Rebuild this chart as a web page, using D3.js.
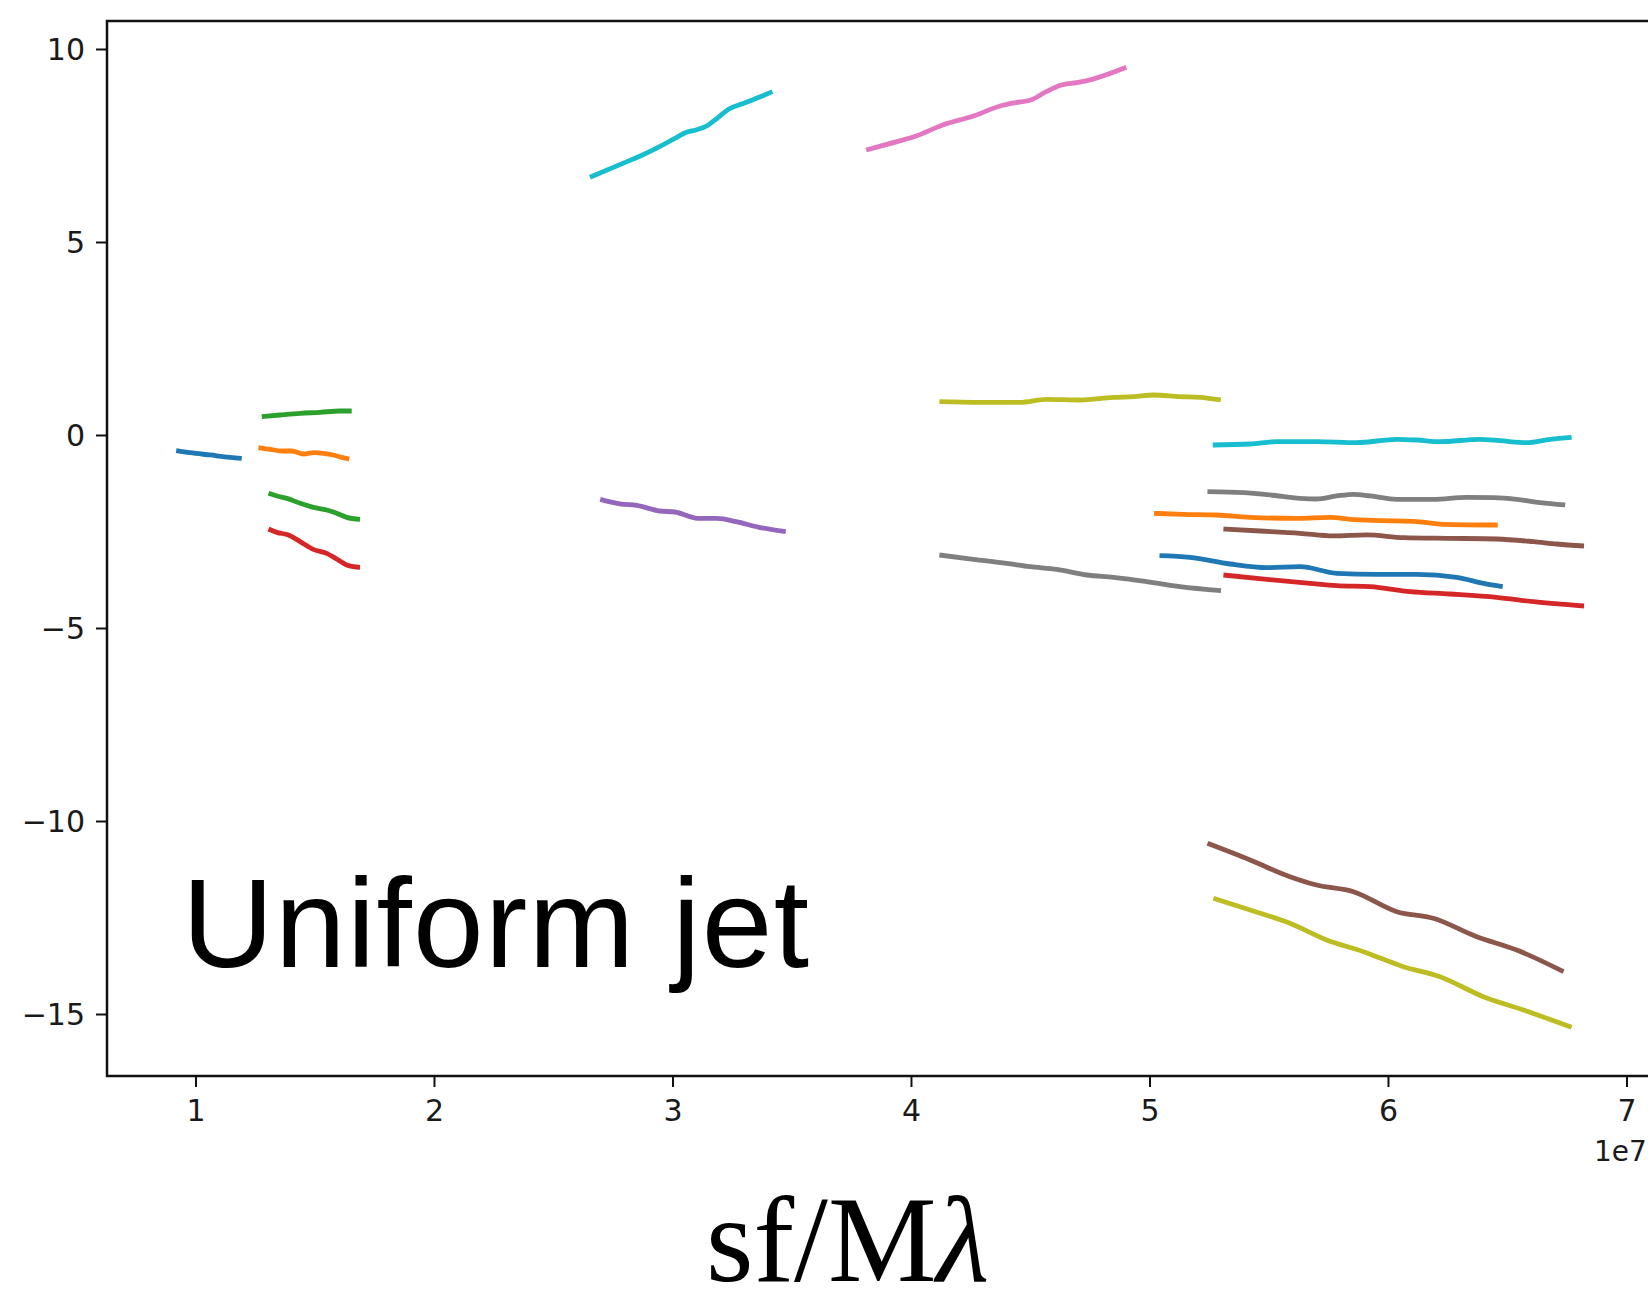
<!DOCTYPE html>
<html>
<head>
<meta charset="utf-8">
<script src="https://cdn.jsdelivr.net/npm/d3@7"></script>
<style>
  html, body { margin: 0; padding: 0; background: #fff; }
  svg { display: block; }
</style>
</head>
<body>
<svg id="chart" width="1648" height="1308"></svg>
<script>
// ---- data (x in units of 1e7) ----
const xTicks = [1, 2, 3, 4, 5, 6, 7];
const yTicks = [-15, -10, -5, 0, 5, 10];
const xOffsetLabel = "1e7";
const annotation = "Uniform jet";
const xLabelMain = "sf/M";
const xLabelSym = "λ";

const segBlueA = [[0.919,-0.406],[0.977,-0.458],[1.061,-0.518],[1.145,-0.578],[1.194,-0.604]];
const segGreenA = [[1.278,0.475],[1.355,0.518],[1.439,0.561],[1.522,0.587],[1.606,0.622],[1.655,0.622]];
const segOrangeA = [[1.264,-0.328],[1.313,-0.371],[1.362,-0.414],[1.404,-0.414],[1.453,-0.492],[1.494,-0.458],[1.536,-0.475],[1.578,-0.518],[1.613,-0.578],[1.645,-0.622]];
const segGreenB = [[1.306,-1.511],[1.341,-1.580],[1.383,-1.641],[1.439,-1.770],[1.494,-1.874],[1.550,-1.943],[1.592,-2.029],[1.634,-2.133],[1.690,-2.185]];
const segRedA = [[1.306,-2.435],[1.341,-2.522],[1.390,-2.591],[1.439,-2.763],[1.494,-2.962],[1.550,-3.066],[1.592,-3.212],[1.634,-3.368],[1.662,-3.411],[1.690,-3.428]];
const segPurple = [[2.697,-1.667],[2.785,-1.788],[2.850,-1.822],[2.946,-1.969],[3.010,-1.995],[3.106,-2.159],[3.187,-2.159],[3.267,-2.245],[3.363,-2.392],[3.475,-2.505]];
const segCyanA = [[2.654,6.675],[2.809,7.081],[2.874,7.254],[2.946,7.470],[3.010,7.686],[3.058,7.841],[3.098,7.901],[3.138,7.988],[3.187,8.204],[3.235,8.437],[3.299,8.592],[3.363,8.748],[3.419,8.895]];
const segPink = [[3.812,7.383],[3.941,7.599],[4.021,7.746],[4.133,8.031],[4.262,8.264],[4.374,8.523],[4.438,8.610],[4.502,8.679],[4.567,8.895],[4.631,9.067],[4.695,9.128],[4.759,9.214],[4.903,9.525]];
const segOliveA = [[4.119,0.864],[4.290,0.846],[4.457,0.846],[4.569,0.924],[4.709,0.907],[4.849,0.976],[4.933,0.993],[5.016,1.036],[5.128,0.993],[5.212,0.976],[5.299,0.907]];
const segGrayA = [[4.119,-3.109],[4.262,-3.221],[4.401,-3.325],[4.499,-3.411],[4.611,-3.480],[4.737,-3.627],[4.849,-3.687],[4.989,-3.799],[5.128,-3.929],[5.300,-4.033]];
const segCyanB = [[5.265,-0.259],[5.422,-0.233],[5.534,-0.173],[5.701,-0.173],[5.869,-0.199],[6.037,-0.112],[6.121,-0.130],[6.218,-0.173],[6.386,-0.112],[6.470,-0.147],[6.582,-0.199],[6.680,-0.112],[6.770,-0.060]];
const segGrayB = [[5.243,-1.468],[5.394,-1.494],[5.506,-1.554],[5.631,-1.641],[5.701,-1.658],[5.785,-1.580],[5.855,-1.537],[5.925,-1.580],[6.037,-1.667],[6.190,-1.667],[6.330,-1.615],[6.442,-1.623],[6.540,-1.667],[6.638,-1.753],[6.743,-1.813]];
const segOrangeB = [[5.019,-2.029],[5.142,-2.055],[5.282,-2.073],[5.422,-2.133],[5.617,-2.159],[5.757,-2.133],[5.841,-2.185],[5.981,-2.219],[6.121,-2.245],[6.232,-2.314],[6.460,-2.332]];
const segBrownA = [[5.310,-2.435],[5.464,-2.487],[5.631,-2.547],[5.771,-2.616],[5.911,-2.590],[6.065,-2.660],[6.260,-2.677],[6.456,-2.694],[6.610,-2.763],[6.708,-2.824],[6.822,-2.876]];
const segBlueB = [[5.042,-3.126],[5.170,-3.169],[5.338,-3.342],[5.492,-3.437],[5.631,-3.411],[5.785,-3.584],[5.953,-3.610],[6.121,-3.610],[6.288,-3.687],[6.400,-3.843],[6.481,-3.929]];
const segRedB = [[5.310,-3.627],[5.492,-3.739],[5.673,-3.843],[5.785,-3.903],[5.925,-3.929],[6.093,-4.059],[6.260,-4.119],[6.456,-4.205],[6.610,-4.318],[6.822,-4.430]];
const segBrownB = [[5.243,-10.578],[5.422,-11.010],[5.589,-11.442],[5.701,-11.658],[5.855,-11.831],[6.037,-12.349],[6.190,-12.521],[6.372,-12.997],[6.540,-13.342],[6.736,-13.903]];
const segOliveB = [[5.268,-12.003],[5.422,-12.306],[5.589,-12.651],[5.743,-13.083],[5.897,-13.385],[6.065,-13.774],[6.218,-14.033],[6.400,-14.551],[6.568,-14.896],[6.770,-15.345]];

const segments = [segBlueA, segOrangeA, segGreenA, segGreenB, segRedA, segPurple, segCyanA, segPink, segOliveA, segGrayA,
                  segCyanB, segGrayB, segOrangeB, segBrownA, segBlueB, segRedB, segBrownB, segOliveB];
const segmentColors = ["#1f77b4", "#ff7f0e", "#2ca02c", "#2ca02c", "#d62728", "#9467bd", "#17becf", "#e377c2", "#bcbd22", "#7f7f7f",
                       "#17becf", "#7f7f7f", "#ff7f0e", "#8c564b", "#1f77b4", "#d62728", "#8c564b", "#bcbd22"];

// ---- layout ----
const L = 107, R = 1652, T = 21, B = 1076;
const svg = d3.select("#chart");
const x = d3.scaleLinear().domain([0.629, 7.107]).range([L, R]);
const y = d3.scaleLinear().domain([-16.606, 10.725]).range([B, T]);

const line = d3.line().curve(d3.curveMonotoneX).x(d => x(d[0])).y(d => y(d[1]));
svg.append("g").selectAll("path").data(segments).join("path")
  .attr("d", line)
  .attr("fill", "none")
  .attr("stroke", (d, i) => segmentColors[i])
  .attr("stroke-width", 4.8)
  .attr("stroke-linejoin", "round")
  .attr("stroke-linecap", "butt");

const fmt = v => (v < 0 ? "\u2212" + Math.abs(v) : String(v));

const xAxis = svg.append("g").attr("transform", `translate(0,${B})`)
  .call(d3.axisBottom(x).tickValues(xTicks).tickFormat(fmt).tickSize(11).tickPadding(13).tickSizeOuter(0));
const yAxis = svg.append("g").attr("transform", `translate(${L},0)`)
  .call(d3.axisLeft(y).tickValues(yTicks).tickFormat(fmt).tickSize(11).tickPadding(11).tickSizeOuter(0));

[xAxis, yAxis].forEach(g => {
  g.select(".domain").remove();
  g.selectAll(".tick line").attr("stroke", "#111").attr("stroke-width", 2);
  g.selectAll(".tick text").attr("fill", "#1a1a1a")
    .style("font-family", "'DejaVu Sans', sans-serif").style("font-size", "30px");
});
yAxis.selectAll(".tick text").attr("dy", "0.36em");

// frame (right spine falls outside the visible page)
svg.append("rect").attr("x", L).attr("y", T).attr("width", R - L).attr("height", B - T)
  .attr("fill", "none").attr("stroke", "#111").attr("stroke-width", 2.5);

// offset label
svg.append("text").attr("x", 1594).attr("y", 1161)
  .style("font-family", "'DejaVu Sans', sans-serif").style("font-size", "28px").attr("fill", "#1a1a1a")
  .text(xOffsetLabel);

// annotation
svg.append("text").attr("x", 182).attr("y", 967)
  .style("font-family", "'Liberation Sans', Arial, Helvetica, sans-serif").style("font-size", "127px")
  .style("letter-spacing", "1.3px").attr("fill", "#000")
  .text(annotation);

// x label
const xl = svg.append("text").attr("x", 706).attr("y", 1281)
  .style("font-family", "'Liberation Serif', 'Times New Roman', serif").style("font-size", "122px").attr("fill", "#000");
xl.append("tspan").text(xLabelMain);
xl.append("tspan").style("font-style", "italic").text(xLabelSym);
</script>
</body>
</html>
